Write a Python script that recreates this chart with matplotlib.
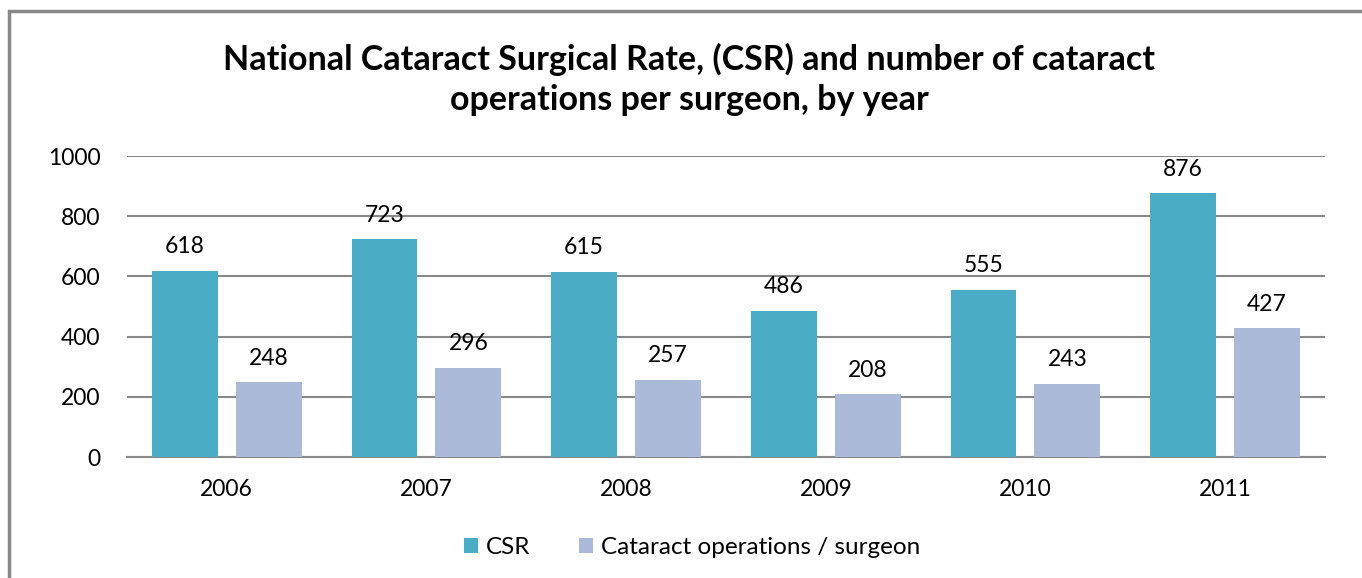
import numpy as np
import matplotlib
matplotlib.use('Agg')
import matplotlib.pyplot as plt
from matplotlib.patches import Rectangle

plt.rcParams['font.family'] = ['Lato', 'DejaVu Sans']

years = ['2006', '2007', '2008', '2009', '2010', '2011']
csr = [618, 723, 615, 486, 555, 876]
ops_per_surgeon = [248, 296, 257, 208, 243, 427]

csr_color = '#4BACC6'
ops_color = '#AABAD8'
grid_color = '#888888'

fig = plt.figure(figsize=(13.62, 5.78), dpi=100)
ax = fig.add_axes([0.0932, 0.2093, 0.8796, 0.5208])

x = np.arange(len(years))
w = 0.33
b1 = ax.bar(x - 0.21, csr, w, color=csr_color, label='CSR', zorder=3)
b2 = ax.bar(x + 0.21, ops_per_surgeon, w, color=ops_color,
            label='Cataract operations / surgeon', zorder=3)

for bars, vals in [(b1, csr), (b2, ops_per_surgeon)]:
    for r, v in zip(bars, vals):
        ax.text(r.get_x() + r.get_width() / 2, v + 45, str(v),
                ha='center', va='bottom', fontsize=16.5)

ax.set_xlim(-0.5, len(years) - 0.5)
ax.set_ylim(0, 1000)
ax.set_yticks(range(0, 1001, 200))
ax.set_xticks(x)
ax.set_xticklabels(years)
ax.tick_params(axis='both', length=0, labelsize=16.5)
ax.tick_params(axis='x', pad=16)
ax.tick_params(axis='y', pad=19)
ax.yaxis.grid(True, color=grid_color, linewidth=1.5, zorder=0)
ax.set_axisbelow(True)
for s in ['left', 'right', 'top']:
    ax.spines[s].set_visible(False)
ax.spines['bottom'].set_color(grid_color)
ax.spines['bottom'].set_linewidth(1.5)

fig.text(0.506, 0.862, 'National Cataract Surgical Rate, (CSR) and number of cataract\noperations per surgeon, by year',
         ha='center', va='center', fontsize=24.5, fontweight='bold', linespacing=1.3)

leg = fig.legend(handles=[b1, b2], loc='center', bbox_to_anchor=(0.508, 0.053), ncol=2,
                 frameon=False, fontsize=17.5, handlelength=0.6, handleheight=0.6,
                 handletextpad=0.3, columnspacing=2.0)

fig.patches.append(Rectangle((8.5 / 1362, -0.1), 1.2, 1.1 - 11.5 / 578,
                             transform=fig.transFigure, fill=False,
                             edgecolor='#888888', linewidth=2.5, clip_on=False))

fig.savefig('out.png', dpi=100)
